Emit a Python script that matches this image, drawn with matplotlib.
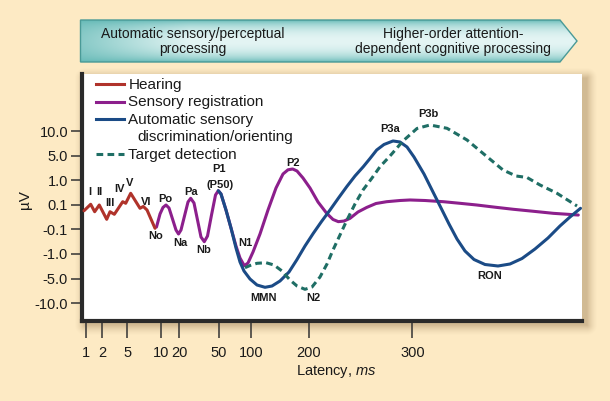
import numpy as np
import matplotlib
matplotlib.use("Agg")
import matplotlib.pyplot as plt
from matplotlib.patches import Polygon
from matplotlib.lines import Line2D

plt.rcParams['font.family'] = ['Liberation Sans', 'DejaVu Sans']
plt.rcParams['mathtext.fontset'] = 'custom'
plt.rcParams['mathtext.rm'] = 'Liberation Sans'
plt.rcParams['mathtext.it'] = 'Liberation Sans:italic'

# ---------------- data (latency in ms, amplitude in microvolts) ----------------
hearing_ms = [0.85, 1.27, 1.52, 1.81, 2.53, 2.93, 3.45, 4.46, 4.82, 5.52, 6.91, 7.40, 7.96, 9.15]
hearing_uv = [0.053, 0.126, 0.045, 0.100, -0.017, 0.045, 0.024, 0.221, 0.163, 0.53, 0.073, 0.088, 0.059, -0.090]

sensory_ms = [9.37, 9.90, 11.23, 12.83, 14.44, 16.31, 18.18, 19.52, 21.21, 23.86, 26.52, 28.56,
              31.06, 33.71, 36.36, 38.86, 41.29, 44.32, 47.35, 49.47, 53.09, 60.80, 68.52, 76.23,
              82.41, 89.04, 94.75, 102.80, 115.04, 129.02, 143.01, 155.25, 163.99, 172.20, 179.72,
              190.21, 201.35, 209.05, 217.42, 223.48, 228.59, 234.07, 239.85, 247.55, 255.92,
              264.87, 275.17, 287.97, 297.60, 312.03, 329.64, 345.72, 361.79, 379.41, 397.02,
              415.98, 435.52, 447.74, 459.58]
sensory_uv = [-0.080, 0.027, 0.080, 0.100, 0.0755, -0.014, -0.118, -0.265, -0.118, 0.010, 0.210, 0.346,
              0.173, -0.022, -0.376, -0.548, -0.339, 0.018, 0.467, 0.625, 0.504, 0.059, -0.088, -0.706,
              -1.653, -2.910, -2.469, -0.927, -0.265, 0.059, 0.724, 2.061, 2.747, 2.877, 2.551,
              1.408, 0.724, 0.210, 0.032, -0.018, -0.036, -0.031, -0.009, 0.043, 0.080,
              0.155, 0.221, 0.265, 0.284, 0.265, 0.221, 0.162, 0.100, 0.082, 0.065,
              0.049, 0.032, 0.025, 0.018]

discrim_ms = [49.47, 53.09, 60.80, 68.52, 76.23, 82.41, 88.58, 97.84, 109.79, 123.78, 136.01, 150.00,
              165.74, 179.20, 193.71, 204.52, 212.42, 220.60, 228.78, 236.67, 244.66, 252.65, 259.10,
              265.55, 272.57, 281.23, 287.97, 294.71, 301.44, 311.07, 319.73, 327.43, 335.13, 342.83,
              350.53, 359.19, 369.78, 382.29, 393.84, 405.39, 417.91, 430.42, 441.97, 451.59, 461.70]
discrim_uv = [0.625, 0.504, 0.059, -0.088, -0.780, -2.306, -3.776, -5.102, -6.327, -6.796, -6.531, -5.510,
              -3.939, -1.980, -0.706, -0.240, -0.035, 0.059, 0.357, 0.772, 1.735, 3.253, 4.592,
              6.224, 7.347, 8.061, 7.857, 6.837, 4.837, 2.061, 0.578, 0.076, -0.055, -0.449,
              -0.890, -1.898, -2.714, -2.959, -2.633, -1.735, -0.816, -0.412, -0.071, 0.002, 0.073]

target_ms = [90.12, 97.84, 109.79, 125.53, 139.51, 153.50, 167.48, 179.72, 193.71, 203.27, 210.97,
             217.71, 223.48, 230.22, 236.96, 244.66, 252.36, 261.02, 268.72, 278.35, 290.86, 304.33,
             316.84, 333.21, 352.46, 371.71, 387.11, 399.62, 410.21, 422.72, 439.08, 458.33]
target_uv = [-3.237, -2.878, -2.519, -2.421, -2.796, -3.776, -5.306, -6.531, -7.204, -6.735, -4.755,
             -2.633, -0.853, -0.302, -0.022, 0.137, 0.651, 1.408, 3.253, 5.0, 8.061, 10.612,
             11.327, 10.653, 8.265, 4.886, 2.714, 1.735, 1.490, 0.835, 0.530, 0.092]

x_ticks = [1, 2, 5, 10, 20, 50, 100, 200, 300]
x_ticklabels = ['1', '2', '5', '10', '20', '50', '100', '200', '300']
y_ticks = [-10, -5, -1, -0.1, 0.1, 1, 5, 10]
y_ticklabels = ['-10.0', '-5.0', '-1.0', '-0.1', '0.1', '1.0', '5.0', '10.0']

peak_labels = ['I', 'II', 'III', 'IV', 'V', 'VI', 'No', 'Po', 'Na', 'Pa', 'Nb', 'P1', '(P50)',
               'N1', 'MMN', 'N2', 'P2', 'P3a', 'P3b', 'RON']
peak_ms = [1.23, 1.79, 2.93, 4.13, 5.42, 7.81, 9.30, 12.30, 20.45, 28.56, 38.64, 50.0, 51.54,
           90.12, 120.80, 204.52, 173.25, 278.35, 315.21, 374.59]
peak_uv = [0.589, 0.589, 0.185, 0.677, 0.919, 0.221, -0.339, 0.309, -0.607, 0.589, -0.853, 2.926, 0.835,
           -0.607, -9.041, -9.041, 3.808, 10.449, 13.510, -4.593]

series_names = ['Hearing', 'Sensory registration', 'Automatic sensory', 'Target detection']
series_name_cont = 'discrimination/orienting'

# ---------------- styles ----------------
BG = '#fdeac4'
C_RED = '#b0332b'
C_PUR = '#8c1f8c'
C_BLU = '#1b4b86'
C_GRN = '#1f6e65'
TXT = '#1a1a1a'
LW = 2.2

# ---------------- scales (non-linear schematic axes) ----------------
xk_ms = np.array([0, 1, 2, 5, 10, 20, 50, 100, 200, 300, 600], float)
xk_pos = np.array([70.5, 86.4, 102.3, 127.2, 160.7, 179.4, 219.0, 251.4, 308.6, 412.5, 724.2])
yk_v = np.array([-30, -10, -5, -1, -0.1, 0.1, 1, 5, 10, 30], float)
yk_pos = np.array([-4, 0, 1, 2, 3, 4, 5, 6, 7, 11], float)


def xf(x):
    return np.interp(x, xk_ms, xk_pos)


def xi(p):
    return np.interp(p, xk_pos, xk_ms)


def yf(y):
    return np.interp(y, yk_v, yk_pos)


def yi(p):
    return np.interp(p, yk_pos, yk_v)


fig = plt.figure(figsize=(6.10, 4.01), dpi=100)
fig.patch.set_facecolor(BG)

# background / shadow layer in pixel coordinates
bg = fig.add_axes([0, 0, 1, 1], zorder=0)
bg.set_facecolor(BG)
yy, xx = np.mgrid[0:401, 0:610] + 0.5
sx0, sx1, sy0, sy1 = 85, 587, 78, 325
dx = np.maximum(np.maximum(sx0 - xx, xx - sx1), 0)
dy = np.maximum(np.maximum(sy0 - yy, yy - sy1), 0)
d = np.hypot(dx, dy)
alpha = 0.42 * np.clip(1 - d / 11.0, 0, 1) ** 1.6
img = np.zeros((401, 610, 4))
img[..., 0] = 150 / 255
img[..., 1] = 120 / 255
img[..., 2] = 80 / 255
img[..., 3] = alpha
bg.imshow(img, extent=(0, 610, 401, 0), interpolation='bilinear', aspect='auto')
bg.set_xlim(0, 610)
bg.set_ylim(401, 0)
bg.axis('off')

# main axes
ax = fig.add_axes([82 / 610, (401 - 320.5) / 401, 500 / 610, 246.5 / 401], zorder=2)
ax.set_facecolor('white')
ax.set_xscale('function', functions=(xf, xi))
ax.set_yscale('function', functions=(yf, yi))
ax.set_xlim(0.7233, 463.14)
ax.set_ylim(-13.57, 21.73)

ax.plot(sensory_ms, sensory_uv, color=C_PUR, lw=LW, solid_joinstyle='round', solid_capstyle='round', zorder=3)
ax.plot(discrim_ms, discrim_uv, color=C_BLU, lw=LW, solid_joinstyle='round', solid_capstyle='round', zorder=4)
ax.plot(target_ms, target_uv, color=C_GRN, lw=LW, linestyle=(0, (2.2, 1.4)), zorder=4)
ax.plot(hearing_ms, hearing_uv, color=C_RED, lw=LW, solid_joinstyle='round', solid_capstyle='round', zorder=5)

for t, xm, yv in zip(peak_labels, peak_ms, peak_uv):
    ax.text(xm, yv, t, ha='center', va='center', fontsize=8, fontweight='bold', color=TXT, zorder=6)

for s in ['top', 'right']:
    ax.spines[s].set_visible(False)
for s in ['left', 'bottom']:
    ax.spines[s].set_linewidth(3)
    ax.spines[s].set_color('#2a2a2a')

ax.set_xticks(x_ticks)
ax.set_xticklabels(x_ticklabels)
ax.set_yticks(y_ticks)
ax.set_yticklabels(y_ticklabels)
ax.minorticks_off()
ax.tick_params(axis='x', length=12, width=1.1, pad=6.5, labelsize=10.5, color='#333333', labelcolor=TXT)
ax.tick_params(axis='y', length=8, width=1.1, pad=2, labelsize=10.5, color='#333333', labelcolor=TXT)

ax.set_xlabel('Latency, $\\it{ms}$', fontsize=10.5, color=TXT, va='center')
ax.xaxis.set_label_coords((336.6 - 82) / 500, -(371 - 320.5) / 246.5)
ax.set_ylabel('\u00b5V', fontsize=11, color=TXT, va='center')
ax.yaxis.set_label_coords((25 - 82) / 500, (320.5 - 200) / 246.5)

# overlay in pixel coordinates: banner and legend
ov = fig.add_axes([0, 0, 1, 1], zorder=5)
ov.set_xlim(0, 610)
ov.set_ylim(401, 0)
ov.patch.set_alpha(0)
ov.axis('off')

verts = [(80.5, 20), (560, 20), (577, 41), (560, 62), (80.5, 62)]
gy, gx = np.mgrid[0:84, 0:500]
u = gx / 499.0
v = gy / 83.0
tv = 1 - ((v - 0.5) * 2) ** 2
th = np.clip(u / 0.22, 0, 1)
f = np.clip(tv, 0, 1) ** 0.7 * (0.3 + 0.7 * th)
dark = np.array([98, 184, 181]) / 255
light = np.array([228, 245, 244]) / 255
grad = dark[None, None, :] + (light - dark)[None, None, :] * f[..., None]
poly = Polygon(verts, closed=True, facecolor='none', edgecolor='none')
ov.add_patch(poly)
im = ov.imshow(grad, extent=(80.5, 578, 62, 20), interpolation='bilinear', aspect='auto')
im.set_clip_path(poly)
ov.add_patch(Polygon(verts, closed=True, fill=False, edgecolor='#4a9a97', lw=1.0))
ov.text(193, 41.5, 'Automatic sensory/perceptual\nprocessing', ha='center', va='center',
        multialignment='center', fontsize=10, color=TXT, linespacing=1.15)
ov.text(453, 41.5, 'Higher-order attention-\ndependent cognitive processing', ha='center', va='center',
        multialignment='center', fontsize=10, color=TXT, linespacing=1.15)
ov.set_xlim(0, 610)
ov.set_ylim(401, 0)

leg_colors = [C_RED, C_PUR, C_BLU, C_GRN]
leg_styles = ['-', '-', '-', (0, (2.2, 1.4))]
leg_rows = [84, 101.7, 119.3, 154.3]
for name, c, ls, yrow in zip(series_names, leg_colors, leg_styles, leg_rows):
    ov.add_line(Line2D([95.7, 124.3], [yrow, yrow], color=c, lw=LW, linestyle=ls))
    ov.text(128.3, yrow + 0.5, name, ha='left', va='center', fontsize=11, color=TXT)
ov.text(137.7, 137.2, series_name_cont, ha='left', va='center', fontsize=11, color=TXT)

fig.savefig('out.png', dpi=100, facecolor=BG)
